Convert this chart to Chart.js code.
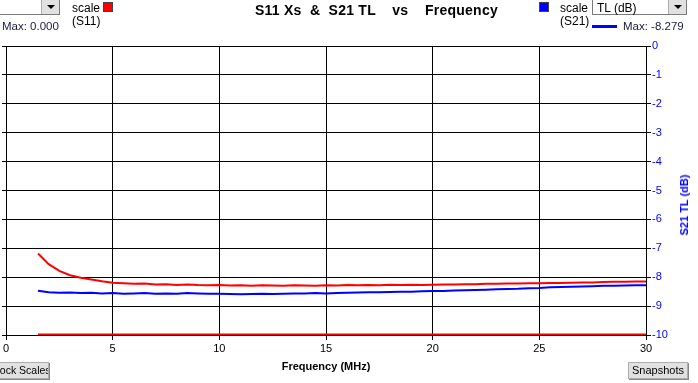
<!DOCTYPE html>
<html>
<head>
<meta charset="utf-8">
<script src="https://cdn.jsdelivr.net/npm/chart.js@4"></script>
<style>
  body { margin: 0; width: 698px; height: 383px; overflow: hidden; background: #fff; position: relative;
         font-family: "Liberation Sans", Arial, sans-serif; font-size: 11px; }
  #wrap { position: absolute; left: 0; top: 0; width: 698px; height: 383px; }
  .abs { position: absolute; white-space: pre; }
  .combo { position: absolute; height: 16px; background: #fff; border: 1px solid #7a7a7a; box-sizing: border-box; }
  .arrow { position: absolute; top: 0; width: 17px; height: 14px; background: #e1e1e1; border-left: 1px solid #adadad; }
  .arrow:after { content: ""; position: absolute; left: 5px; top: 5px; border-left: 4px solid transparent;
                 border-right: 4px solid transparent; border-top: 4px solid #000; }
  .btn { position: absolute; height: 17px; box-sizing: border-box; background: #e1e1e1; border: 1px solid #adadad;
         box-shadow: 1px 1px 0 #888; font-size: 11px; line-height: 15px; white-space: nowrap; overflow: hidden; }
  .sq { position: absolute; width: 8px; height: 8px; border: 1px solid #444; }
</style>
</head>
<body>
<div id="wrap"><canvas id="c" width="698" height="383"></canvas></div>

<div class="combo" style="left:-40px; top:-1px; width:100px;"><div class="arrow" style="right:0;"></div></div>
<div class="abs" style="left:72px; top:2px; font-size:12px; line-height:13px;">scale
(S11)</div>
<div class="sq" style="left:103px; top:2px; background:#ff0000;"></div>
<div class="abs" style="left:2px; top:20px; font-size:11.5px; color:#1a1a40;">Max: 0.000</div>

<div class="abs" style="left:255px; top:2px; font-weight:bold; font-size:14px; letter-spacing:0.25px;">S11 Xs  &amp;  S21 TL    vs    Frequency</div>

<div class="sq" style="left:539px; top:2px; background:#0000ff;"></div>
<div class="abs" style="left:560px; top:2px; font-size:12px; line-height:13px;">scale
(S21)</div>
<div class="combo" style="left:592px; top:-1px; width:95px;"><span class="abs" style="left:4px; top:1px; font-size:12px;">TL (dB)</span><div class="arrow" style="right:0;"></div></div>
<div class="abs" style="left:592px; top:25px; width:25px; height:3px; background:#0000ff;"></div>
<div class="abs" style="left:623px; top:20px; font-size:11.5px; color:#1a1a40;">Max: -8.279</div>

<div class="abs" style="left:684px; top:205px; color:#0000ff; font-weight:bold; transform:translate(-50%,-50%) rotate(-90deg);">S21 TL (dB)</div>

<div class="btn" style="left:-9px; top:362px; width:58px; padding-left:2px; font-size:10.5px;">Lock Scales</div>
<div class="btn" style="left:628px; top:362px; width:60px; text-align:center;">Snapshots</div>

<script>
const freq = [1.5, 2.0, 2.5, 3.0, 3.5, 4.0, 4.5, 5.0, 5.5, 6.0, 6.5, 7.0, 7.5, 8.0, 8.5, 9.0, 9.5, 10.0,
  10.5, 11.0, 11.5, 12.0, 12.5, 13.0, 13.5, 14.0, 14.5, 15.0, 15.5, 16.0, 16.5, 17.0, 17.5, 18.0, 18.5, 19.0,
  19.5, 20.0, 20.5, 21.0, 21.5, 22.0, 22.5, 23.0, 23.5, 24.0, 24.5, 25.0, 25.5, 26.0, 26.5, 27.0, 27.5, 28.0,
  28.5, 29.0, 29.5, 30.0];

// upper red trace (dB, right scale)
const s11Ref = [-7.18, -7.55, -7.78, -7.93, -8.02, -8.08, -8.14, -8.19, -8.21, -8.23, -8.22, -8.25, -8.24, -8.27,
  -8.25, -8.27, -8.28, -8.27, -8.29, -8.28, -8.30, -8.28, -8.29, -8.30, -8.28, -8.29, -8.30, -8.28, -8.29, -8.27,
  -8.28, -8.27, -8.28, -8.26, -8.27, -8.26, -8.27, -8.26, -8.25, -8.25, -8.24, -8.24, -8.23, -8.23, -8.22, -8.22,
  -8.21, -8.21, -8.20, -8.20, -8.19, -8.18, -8.18, -8.17, -8.16, -8.16, -8.15, -8.15];

// S21 TL (dB)
const s21TL = [-8.47, -8.52, -8.54, -8.53, -8.55, -8.54, -8.56, -8.55, -8.57, -8.56, -8.55, -8.57, -8.56, -8.57,
  -8.55, -8.56, -8.57, -8.57, -8.58, -8.59, -8.58, -8.57, -8.58, -8.57, -8.56, -8.56, -8.55, -8.56, -8.55, -8.54,
  -8.53, -8.52, -8.52, -8.51, -8.50, -8.50, -8.49, -8.48, -8.48, -8.46, -8.45, -8.44, -8.43, -8.42, -8.41, -8.40,
  -8.38, -8.37, -8.35, -8.34, -8.33, -8.32, -8.31, -8.30, -8.30, -8.29, -8.28, -8.28];

// S11 Xs (left scale, hidden)
const s11Xs = [0, 0, 0, 0, 0, 0, 0, 0, 0, 0, 0, 0, 0, 0, 0, 0, 0, 0, 0, 0, 0, 0, 0, 0, 0, 0, 0, 0, 0,
  0, 0, 0, 0, 0, 0, 0, 0, 0, 0, 0, 0, 0, 0, 0, 0, 0, 0, 0, 0, 0, 0, 0, 0, 0, 0, 0, 0, 0];

const xTicks = [0, 5, 10, 15, 20, 25, 30];
const yTicks = [0, -1, -2, -3, -4, -5, -6, -7, -8, -9, -10];

const pts = (ys) => ys.map((y, i) => ({ x: freq[i], y: y }));

const ctx = document.getElementById("c").getContext("2d");
new Chart(ctx, {
  type: "line",
  data: {
    datasets: [
      { label: "S11 Xs", data: pts(s11Xs), yAxisID: "y1", borderColor: "#ff0000", borderWidth: 3, pointRadius: 0 },
      { label: "S11", data: pts(s11Ref), yAxisID: "y", borderColor: "#ff0000", borderWidth: 2, pointRadius: 0 },
      { label: "S21 TL", data: pts(s21TL), yAxisID: "y", borderColor: "#0000ff", borderWidth: 2, pointRadius: 0 }
    ]
  },
  options: {
    responsive: false,
    animation: false,
    layout: { padding: { top: 46, left: 2, right: 0, bottom: 0 } },
    plugins: { legend: { display: false }, tooltip: { enabled: false } },
    scales: {
      x: {
        type: "linear", min: 0, max: 30,
        afterBuildTicks: (s) => { s.ticks = xTicks.map(v => ({ value: v })); },
        afterFit: (s) => { s.height = 48; },
        grid: { color: "#000", lineWidth: 1, tickLength: 5 },
        border: { color: "#000" },
        ticks: { color: "#000", font: { family: "Liberation Sans", size: 11 }, padding: 2, maxRotation: 0 },
        title: { display: true, text: "Frequency (MHz)", color: "#000",
                 font: { family: "Liberation Sans", size: 11, weight: "bold" }, padding: { top: 4, bottom: 9 } }
      },
      y: {
        position: "right", min: -10, max: 0,
        afterBuildTicks: (s) => { s.ticks = yTicks.map(v => ({ value: v })); },
        afterFit: (s) => { s.width = 52; },
        grid: { color: "#000", lineWidth: 1, tickLength: 5 },
        border: { color: "#000" },
        ticks: { color: "#0000ff", font: { family: "Liberation Sans", size: 11 }, padding: 1 }
      },
      y1: {
        position: "left", min: 0, max: 10,
        afterBuildTicks: (s) => { s.ticks = [0, 1, 2, 3, 4, 5, 6, 7, 8, 9, 10].map(v => ({ value: v })); },
        afterFit: (s) => { s.width = 4; },
        grid: { color: "#000", lineWidth: 1, tickLength: 4, drawOnChartArea: false },
        border: { color: "#000" },
        ticks: { display: false }
      }
    }
  }
});
</script>
</body>
</html>
